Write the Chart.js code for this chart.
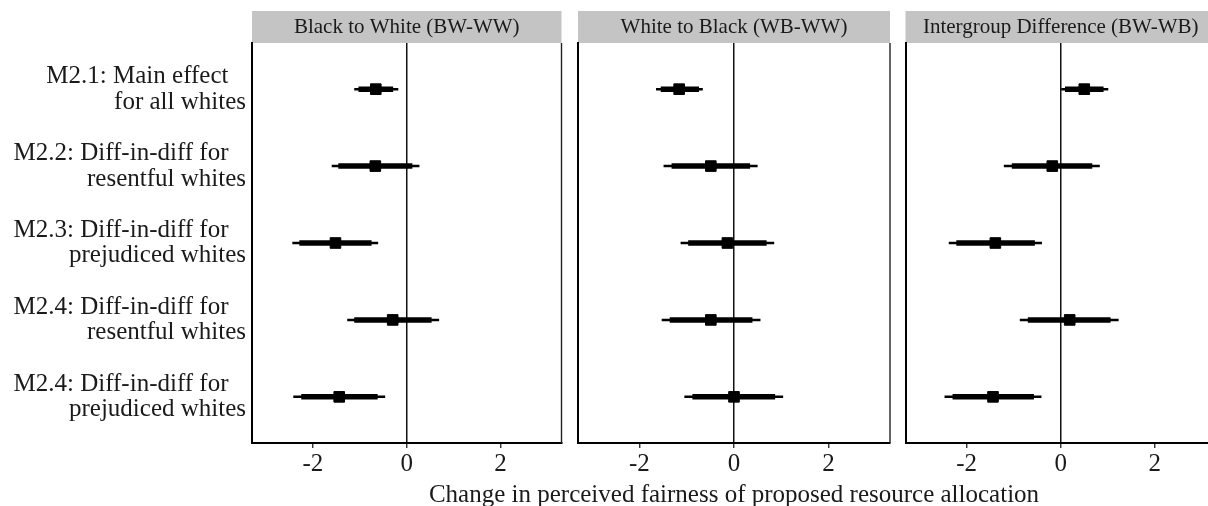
<!DOCTYPE html>
<html><head><meta charset="utf-8">
<script src="https://cdn.jsdelivr.net/npm/chart.js@4/dist/chart.umd.min.js"></script>
<style>
html,body{margin:0;padding:0;background:#fff;width:1208px;height:506px;overflow:hidden;}
.p{position:absolute;top:0;}
canvas{display:block;}
</style></head><body>
<div class="p" style="left:0px"><canvas id="c1" width="570" height="506"></canvas></div>
<div class="p" style="left:400px"><canvas id="c2" width="660" height="506"></canvas></div>
<div class="p" style="left:897px"><canvas id="c3" width="330" height="506"></canvas></div>
<script>
// ---- data ----
const categories = [
  "M2.1: Main effect  \u2009\nfor all whites",
  "M2.2: Diff-in-diff for  \u2009\nresentful whites",
  "M2.3: Diff-in-diff for  \u2009\nprejudiced whites",
  "M2.4: Diff-in-diff for  \u2009\nresentful whites",
  "M2.4: Diff-in-diff for  \u2009\nprejudiced whites"
];
const rowPos = [1, 2, 3, 4, 5];
const xTicks = [-2, 0, 2];
const panelTitles = ["Black to White (BW-WW)", "White to Black (WB-WW)", "Intergroup Difference (BW-WB)"];
const axisTitle = "Change in perceived fairness of proposed resource allocation";

// Black to White (BW-WW)
const bwEst  = [-0.66, -0.67, -1.52, -0.30, -1.44];
const bwLo95 = [-1.12, -1.60, -2.44, -1.27, -2.42];
const bwHi95 = [-0.18,  0.27, -0.61,  0.69, -0.46];
const bwLo90 = [-1.03, -1.46, -2.29, -1.12, -2.25];
const bwHi90 = [-0.29,  0.12, -0.75,  0.53, -0.62];

// White to Black (WB-WW)
const wbEst  = [-1.16, -0.49, -0.14, -0.49,  0.00];
const wbLo95 = [-1.65, -1.49, -1.13, -1.53, -1.05];
const wbHi95 = [-0.66,  0.50,  0.85,  0.56,  1.04];
const wbLo90 = [-1.55, -1.32, -0.97, -1.36, -0.88];
const wbHi90 = [-0.74,  0.34,  0.69,  0.39,  0.87];

// Intergroup Difference (BW-WB)
const dfEst  = [ 0.50, -0.18, -1.39,  0.19, -1.44];
const dfLo95 = [ 0.01, -1.21, -2.38, -0.87, -2.47];
const dfHi95 = [ 1.01,  0.83, -0.40,  1.23, -0.41];
const dfLo90 = [ 0.09, -1.04, -2.22, -0.70, -2.30];
const dfHi90 = [ 0.91,  0.67, -0.55,  1.06, -0.57];

// ---- drawing ----
const FONT = "'Liberation Serif', 'DejaVu Serif', serif";
const TXT = '#1a1a1a';

const stripPlugin = {
  id: 'strip',
  beforeDraw(chart) {
    const {ctx, chartArea} = chart;
    const tb = chart.titleBlock;
    ctx.save();
    ctx.fillStyle = '#c4c4c4';
    ctx.fillRect(chartArea.left, tb.top, chartArea.right - chartArea.left, chartArea.top - tb.top);
    ctx.restore();
  },
  afterDatasetsDraw(chart) {
    const {ctx, chartArea} = chart;
    ctx.save();
    ctx.strokeStyle = '#222';
    ctx.lineWidth = 1.4;
    ctx.beginPath();
    ctx.moveTo(chartArea.right, chartArea.top);
    ctx.lineTo(chartArea.right, chartArea.bottom);
    ctx.stroke();
    ctx.restore();
  },
  afterDraw(chart, args, opts) {
    if (!opts || !opts.text) return;
    const {ctx, chartArea} = chart;
    ctx.save();
    ctx.fillStyle = TXT;
    ctx.font = "25px " + FONT;
    ctx.textAlign = 'center';
    ctx.textBaseline = 'middle';
    ctx.fillText(opts.text, (chartArea.left + chartArea.right) / 2, opts.y);
    ctx.restore();
  }
};

function makePanel(id, title, est, lo95, hi95, lo90, hi90, cfg) {
  const pts = a => a.map((v, i) => ({x: v, y: rowPos[i]}));
  const rng = (lo, hi) => lo.map((v, i) => ({x: [v, hi[i]], y: rowPos[i]}));
  return new Chart(document.getElementById(id), {
    type: 'bar',
    data: {datasets: [
      {type: 'scatter', data: pts(est), pointStyle: 'rect', pointRadius: 7.5, pointHoverRadius: 7.5,
       backgroundColor: '#000', borderColor: '#000', borderWidth: 1, order: 0},
      {data: rng(lo90, hi90), grouped: false, maxBarThickness: 5.5, backgroundColor: '#000', borderWidth: 0, order: 1},
      {data: rng(lo95, hi95), grouped: false, maxBarThickness: 2.5, backgroundColor: '#000', borderWidth: 0, order: 2}
    ]},
    options: {
      indexAxis: 'y', responsive: false, animation: false, events: [],
      layout: {padding: {left: cfg.padLeft, right: cfg.padRight, top: 11, bottom: 0}},
      plugins: {
        legend: {display: false}, tooltip: {enabled: false},
        title: {display: true, text: title, fullSize: false, color: TXT,
                font: {family: FONT, size: 21, weight: 'normal', lineHeight: 1.2},
                padding: {top: 3.4, bottom: 3.4}},
        strip: cfg.showXTitle ? {text: axisTitle, y: 495} : {}
      },
      scales: {
        x: {
          type: 'linear', min: -3.3, max: 3.3, offset: false,
          afterBuildTicks(s) { s.ticks = xTicks.map(v => ({value: v})); },
          afterFit(s) { s.height = 63; },
          ticks: {color: TXT, font: {family: FONT, size: 25, lineHeight: 1.2}, padding: 1, autoSkip: false, maxRotation: 0},
          grid: {color: c => (c.tick && c.tick.value === 0) ? '#111' : 'rgba(0,0,0,0)', lineWidth: 1.5,
                 tickColor: '#222', tickLength: 5, tickWidth: 1.3, drawTicks: true},
          border: {display: true, color: '#000', width: 2}
        },
        y: {
          type: 'linear', reverse: true, min: 0.4, max: 5.6, offset: false,
          afterBuildTicks(s) { s.ticks = rowPos.map(v => ({value: v})); },
          afterFit(s) { s.width = cfg.yWidth; },
          ticks: {display: cfg.showY, color: TXT, font: {family: FONT, size: 25, lineHeight: 1.03}, padding: 6, autoSkip: false,
                  callback: v => { const i = rowPos.indexOf(v); return i >= 0 ? categories[i].split('\n') : ''; }},
          grid: {display: false, drawTicks: false},
          border: {display: true, color: '#000', width: 2}
        }
      }
    },
    plugins: [stripPlugin]
  });
}

function build() {
  makePanel('c1', panelTitles[0], bwEst, bwLo95, bwHi95, bwLo90, bwHi90,
            {padLeft: 0, padRight: 7, yWidth: 252, showY: true, showXTitle: false});
  makePanel('c2', panelTitles[1], wbEst, wbLo95, wbHi95, wbLo90, wbHi90,
            {padLeft: 178, padRight: 170, yWidth: 0, showY: false, showXTitle: true});
  makePanel('c3', panelTitles[2], dfEst, dfLo95, dfHi95, dfLo90, dfHi90,
            {padLeft: 8, padRight: 11, yWidth: 0, showY: false, showXTitle: false});
}
if (document.fonts && document.fonts.load) {
  Promise.all([document.fonts.load("25px 'Liberation Serif'"), document.fonts.load("21px 'Liberation Serif'")])
    .then(build, build);
} else { build(); }
</script>
</body></html>
